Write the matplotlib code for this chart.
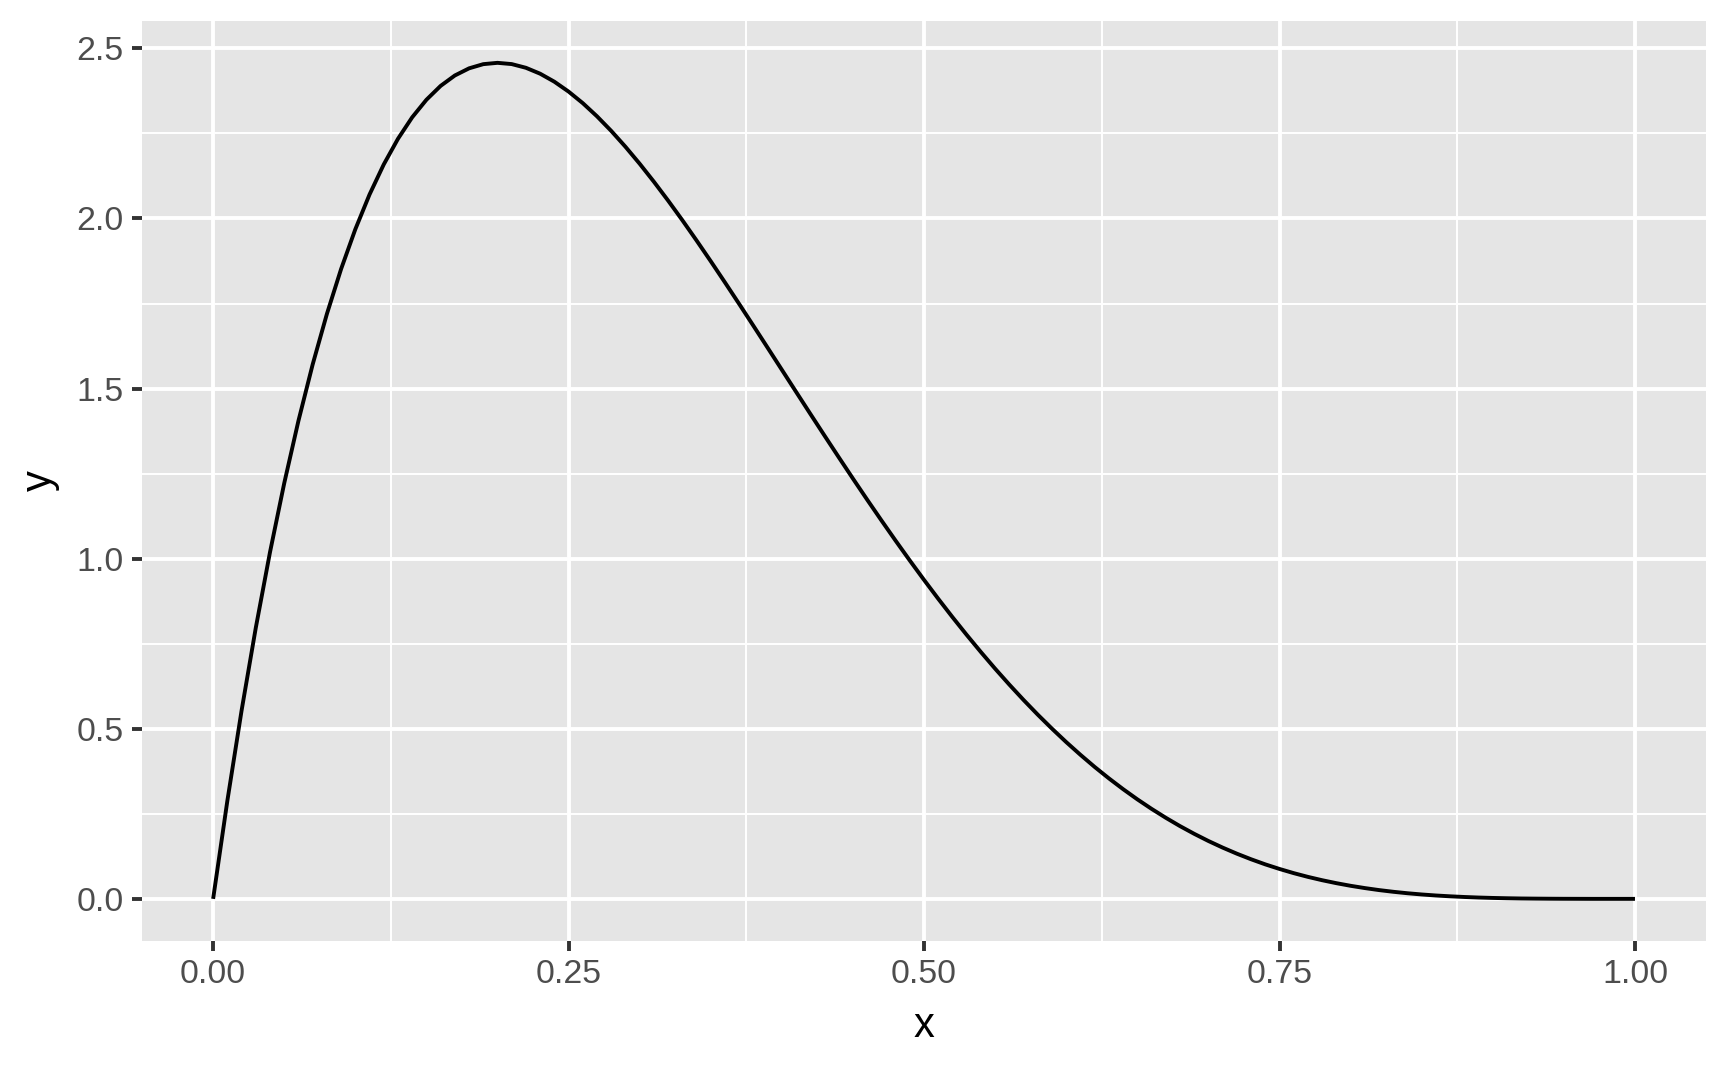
import matplotlib
matplotlib.use("Agg")
import matplotlib.pyplot as plt
import numpy as np

# curve values (every 0.01 in x)
x_vals = [round(0.01 * i, 2) for i in range(101)]
y_vals = [0.0000, 0.2882, 0.5534, 0.7968, 1.0192, 1.2218, 1.4053, 1.5709, 1.7193, 1.8515,
          1.9683, 2.0705, 2.1589, 2.2343, 2.2975, 2.3490, 2.3898, 2.4204, 2.4414, 2.4537,
          2.4576, 2.4539, 2.4430, 2.4256, 2.4021, 2.3730, 2.3390, 2.3003, 2.2574, 2.2108,
          2.1609, 2.1080, 2.0526, 1.9950, 1.9354, 1.8743, 1.8119, 1.7486, 1.6845, 1.6200,
          1.5552, 1.4904, 1.4258, 1.3617, 1.2982, 1.2353, 1.1734, 1.1126, 1.0529, 0.9945,
          0.9375, 0.8820, 0.8281, 0.7759, 0.7254, 0.6766, 0.6297, 0.5846, 0.5414, 0.5002,
          0.4608, 0.4234, 0.3878, 0.3542, 0.3225, 0.2926, 0.2646, 0.2384, 0.2139, 0.1912,
          0.1701, 0.1507, 0.1328, 0.1164, 0.1014, 0.0879, 0.0756, 0.0646, 0.0548, 0.0461,
          0.0384, 0.0317, 0.0258, 0.0208, 0.0165, 0.0129, 0.0099, 0.0075, 0.0055, 0.0039,
          0.0027, 0.0018, 0.0011, 0.0007, 0.0004, 0.0002, 0.0001, 0.0000, 0.0000, 0.0000,
          0.0000]

x_ticks = [0.00, 0.25, 0.50, 0.75, 1.00]
x_labels = ["0.00", "0.25", "0.50", "0.75", "1.00"]
y_ticks = [0.0, 0.5, 1.0, 1.5, 2.0, 2.5]
y_labels = ["0.0", "0.5", "1.0", "1.5", "2.0", "2.5"]

plt.rcParams["font.family"] = ["Liberation Sans", "DejaVu Sans"]

fig = plt.figure(figsize=(8.64, 5.335), dpi=200)
ax = fig.add_axes([0.0822, 0.1184, 0.9873 - 0.0822, 0.9803 - 0.1184])
ax.set_facecolor("#E5E5E5")
for s in ax.spines.values():
    s.set_visible(False)

ax.set_xlim(-0.05, 1.05)
ax.set_ylim(-0.1229, 2.5805)

# grid: major and minor (midpoints)
x_minor = [-0.125 + 0.25 * i for i in range(1, 5)]
y_minor = [0.25 + 0.5 * i for i in range(5)]
ax.set_xticks(x_ticks)
ax.set_xticklabels(x_labels)
ax.set_yticks(y_ticks)
ax.set_yticklabels(y_labels)
ax.set_xticks(x_minor, minor=True)
ax.set_yticks(y_minor, minor=True)
ax.grid(which="major", color="white", linewidth=1.4)
ax.grid(which="minor", color="white", linewidth=0.7)
ax.set_axisbelow(True)

ax.tick_params(which="major", length=3.7, width=1.4, color="#333333",
               labelcolor="#4D4D4D", labelsize=12.2, pad=3)
ax.tick_params(which="minor", length=0)

ax.plot(x_vals, y_vals, color="black", linewidth=1.4, solid_capstyle="butt",
        solid_joinstyle="round")

ax.set_xlabel("x", fontsize=15, color="black", labelpad=5.5)
ax.set_ylabel("y", fontsize=15, color="black", labelpad=6)

plt.savefig("out.png", dpi=200)
